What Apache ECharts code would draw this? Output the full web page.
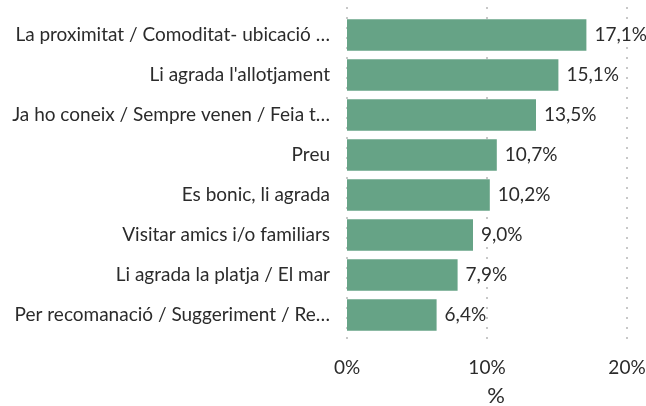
<!DOCTYPE html>
<html>
<head>
<meta charset="utf-8">
<style>html,body{margin:0;padding:0;background:#fff}#c{width:646px;height:406px}</style>
<script src="https://cdn.jsdelivr.net/npm/echarts@6/dist/echarts.min.js"></script>
</head>
<body>
<div id="c"></div>
<script>
const categories = [
  "La proximitat / Comoditat- ubicació …",
  "Li agrada l'allotjament",
  "Ja ho coneix / Sempre venen / Feia t…",
  "Preu",
  "Es bonic, li agrada",
  "Visitar amics i/o familiars",
  "Li agrada la platja / El mar",
  "Per recomanació / Suggeriment / Re…"
];
const values = [17.1, 15.1, 13.5, 10.7, 10.2, 9.0, 7.9, 6.4];
const xTicks = [0, 10, 20];

const FONT = 'Lato';
const TXT = '#2b2b2b';
const chart = echarts.init(document.getElementById('c'), null, {renderer: 'canvas'});
chart.setOption({
  animation: false,
  textStyle: {fontFamily: FONT},
  grid: [
    {left: 347, right: 19, top: 7, bottom: 59, containLabel: false, outerBoundsMode: 'none'},
    {left: 347, right: 19, top: 15, bottom: 71, containLabel: false, outerBoundsMode: 'none'}
  ],
  xAxis: [
    {
      gridIndex: 0, type: 'value', min: xTicks[0], max: xTicks[xTicks.length - 1], interval: 10,
      axisLine: {show: false}, axisTick: {show: false},
      splitLine: {show: true, lineStyle: {color: '#c8c8c8', width: 2, type: [2, 8]}},
      axisLabel: {color: TXT, fontSize: 19, fontFamily: FONT, margin: 11, formatter: v => v + '%'},
      name: '%', nameLocation: 'middle', nameGap: 38,
      nameTextStyle: {color: TXT, fontSize: 22, fontFamily: FONT, padding: [0, 0, 0, 18]}
    },
    {
      gridIndex: 1, type: 'value', min: xTicks[0], max: xTicks[xTicks.length - 1], interval: 10,
      show: false, splitLine: {show: false}
    }
  ],
  yAxis: [
    {gridIndex: 0, type: 'category', data: categories, inverse: true, show: false},
    {
      gridIndex: 1, type: 'category', data: categories, inverse: true,
      axisLine: {show: false}, axisTick: {show: false},
      axisLabel: {color: TXT, fontSize: 19, fontFamily: FONT, margin: 17}
    }
  ],
  series: [{
    type: 'bar', xAxisIndex: 1, yAxisIndex: 1,
    data: values,
    barCategoryGap: '21.5%',
    itemStyle: {color: '#66a386'},
    label: {
      show: true, position: 'right', distance: 8,
      color: TXT, fontSize: 19, fontFamily: FONT,
      formatter: p => p.value.toFixed(1).replace('.', ',') + '%'
    }
  }]
});
</script>
</body>
</html>
